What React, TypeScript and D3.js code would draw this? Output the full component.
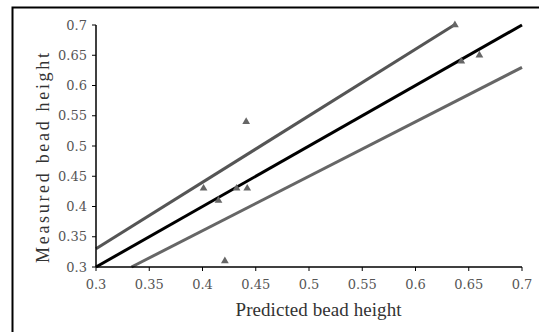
import React from "react";
import * as d3 from "d3";

// measured vs predicted points
const predicted = [0.637, 0.643, 0.66, 0.441, 0.401, 0.415, 0.432, 0.442, 0.421];
const measured = [0.70, 0.64, 0.65, 0.54, 0.43, 0.41, 0.43, 0.43, 0.31];

// reference lines: y = k * x
const lineFactors = [1.1, 1.0, 0.9];
const lineColors = ["#555", "#000", "#666"];

const ticks = [0.3, 0.35, 0.4, 0.45, 0.5, 0.55, 0.6, 0.65, 0.7];

const W = 539;
const H = 332;
const left = 96;
const right = 522;
const top = 25;
const bottom = 267;

export default function App() {
  const x = d3.scaleLinear().domain([0.3, 0.7]).range([left, right]);
  const y = d3.scaleLinear().domain([0.3, 0.7]).range([bottom, top]);
  const line = d3.line<[number, number]>().x((d) => x(d[0])).y((d) => y(d[1]));
  const tri = d3.symbol().type(d3.symbolTriangle).size(26);
  const fmt = (v: number) => String(+v.toFixed(2));

  return (
    <svg
      width={W}
      height={H}
      style={{ position: "absolute", left: 0, top: 0, background: "#fff" }}
      fontFamily="'DejaVu Serif', serif"
    >
      <rect x={12.5} y={7.5} width={560} height={360} fill="none" stroke="#000" strokeWidth={2} />

      {lineFactors.map((k, i) => {
        const x1 = k < 1 ? 0.3 / k : 0.3;
        const x2 = Math.min(0.7, 0.7 / k);
        return (
          <path
            key={i}
            d={line([[x1, k * x1], [x2, k * x2]]) || ""}
            stroke={lineColors[i]}
            strokeWidth={3}
            fill="none"
          />
        );
      })}

      {predicted.map((p, i) => (
        <path key={i} d={tri() || ""} transform={`translate(${x(p)},${y(measured[i])})`} fill="#666" />
      ))}

      {/* axes */}
      <line x1={left} x2={right} y1={bottom} y2={bottom} stroke="#000" strokeWidth={1.5} />
      <line x1={left} x2={left} y1={top} y2={bottom} stroke="#000" strokeWidth={1.5} />
      {ticks.map((t) => (
        <g key={"x" + t}>
          <line x1={x(t)} x2={x(t)} y1={bottom} y2={bottom + 4} stroke="#000" />
          <text x={x(t)} y={bottom + 22} textAnchor="middle" fontSize={13} fill="#555">
            {fmt(t)}
          </text>
        </g>
      ))}
      {ticks.map((t) => (
        <g key={"y" + t}>
          <line x1={left - 4} x2={left} y1={y(t)} y2={y(t)} stroke="#000" />
          <text x={left - 9} y={y(t) + 4.5} textAnchor="end" fontSize={13} fill="#555">
            {fmt(t)}
          </text>
        </g>
      ))}

      <text
        x={318.5}
        y={316}
        textAnchor="middle"
        fontSize={19}
        fontFamily="'Liberation Serif', serif"
        fill="#333"
        textLength={166}
        lengthAdjust="spacing"
      >
        Predicted bead height
      </text>
      <text
        transform={`translate(49,158) rotate(-90)`}
        textAnchor="middle"
        fontSize={18}
        fontFamily="'Liberation Serif', serif"
        fill="#333"
        textLength={210}
        lengthAdjust="spacing"
      >
        Measured bead height
      </text>
    </svg>
  );
}
